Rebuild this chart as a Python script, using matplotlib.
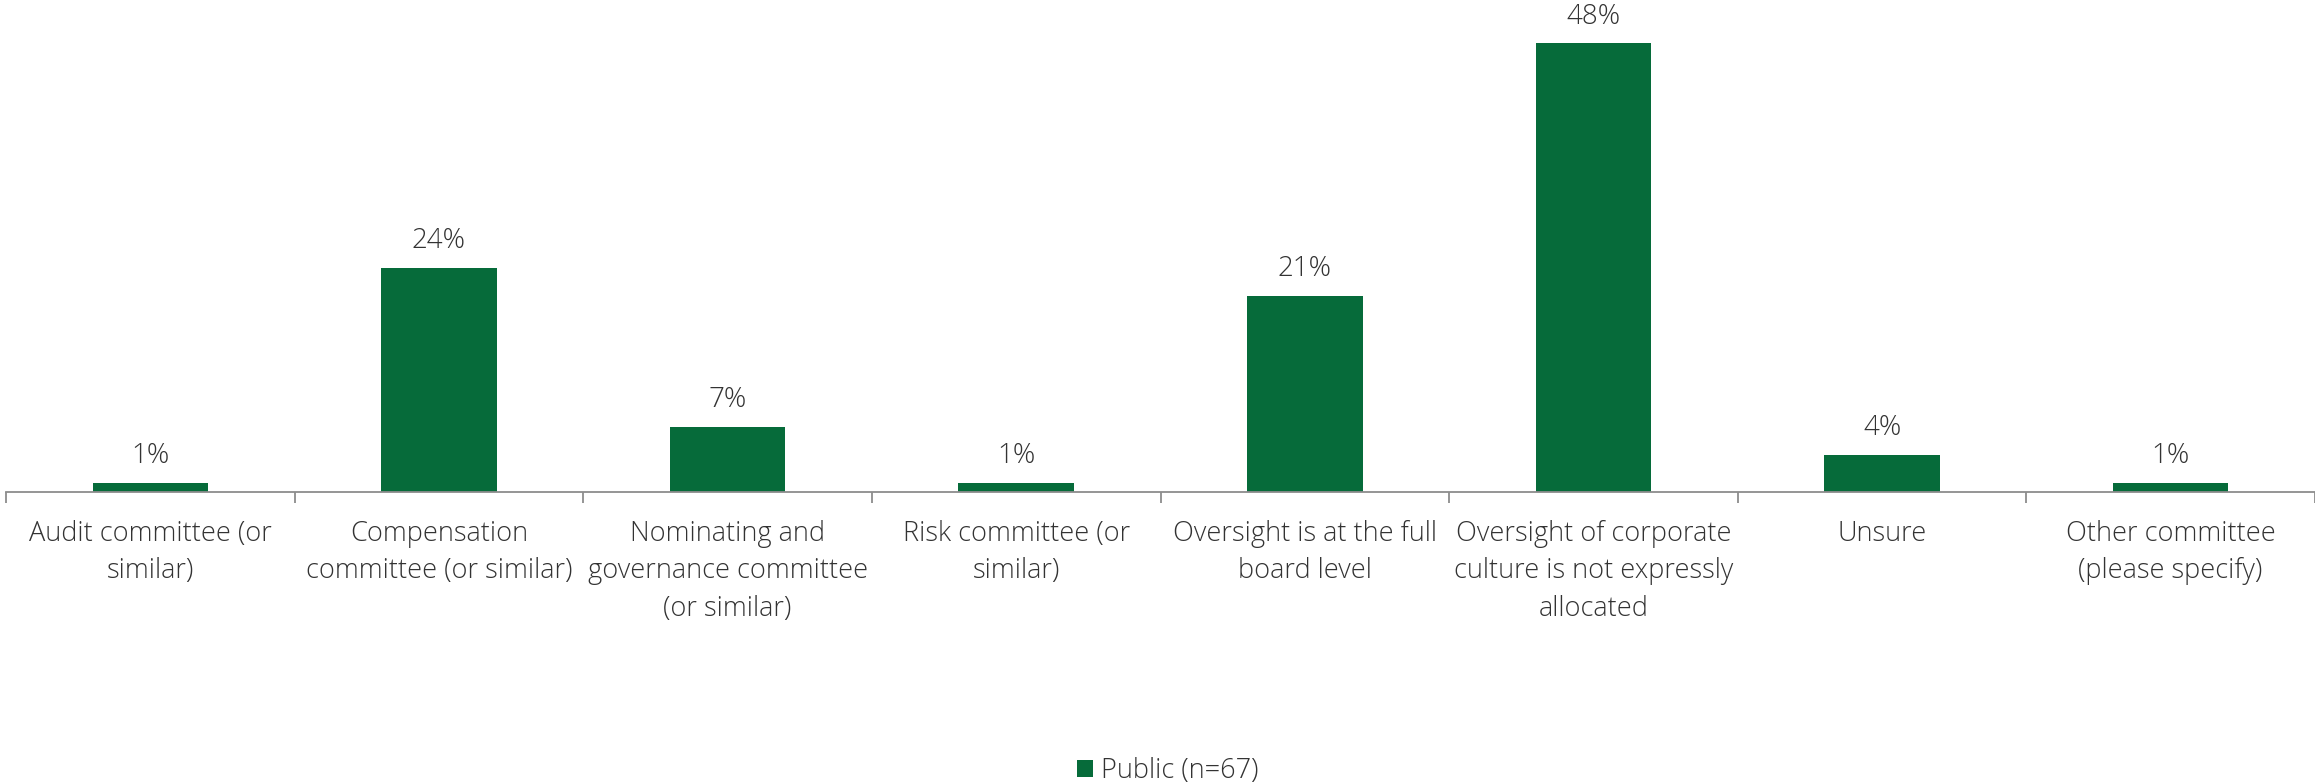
import matplotlib
matplotlib.use("Agg")
import matplotlib.pyplot as plt
from matplotlib.patches import Patch
import numpy as np

categories = [
    "Audit committee (or\nsimilar)",
    "Compensation\ncommittee (or similar)",
    "Nominating and\ngovernance committee\n(or similar)",
    "Risk committee (or\nsimilar)",
    "Oversight is at the full\nboard level",
    "Oversight of corporate\nculture is not expressly\nallocated",
    "Unsure",
    "Other committee\n(please specify)",
]
public_pct = [1, 24, 7, 1, 21, 48, 4, 1]
series_name = "Public (n=67)"

GREEN = "#066b3a"
TEXT = "#333333"
AXIS = "#8c8c8c"

plt.rcParams["font.family"] = ["Open Sans", "DejaVu Sans"]

fig = plt.figure(figsize=(23.15, 7.83), dpi=100)
ax = fig.add_axes([6 / 2315, (783 - 492) / 783, 1 - 6 / 2315, 492 / 783])

x = np.arange(len(categories))
bars = ax.bar(x, public_pct, width=0.4, color=GREEN)

for xi, v in zip(x, public_pct):
    ax.annotate(f"{v}%", (xi, v), xytext=(0, 9), textcoords="offset points",
                ha="center", va="bottom", fontsize=20, color=TEXT, fontweight="light")

ax.set_xlim(-0.5, len(categories) - 0.5)
ax.set_ylim(0, 52.6)
ax.set_yticks([])
for s in ["top", "right", "left"]:
    ax.spines[s].set_visible(False)
ax.spines["bottom"].set_color(AXIS)
ax.spines["bottom"].set_linewidth(1.3)

ax.set_xticks(x)
ax.set_xticklabels(categories, fontsize=19.5, color=TEXT, fontweight="light", linespacing=1.45)
ax.tick_params(axis="x", which="major", length=0, pad=20)
ax.set_xticks(np.arange(-0.5, len(categories) + 0.5, 1), minor=True)
ax.tick_params(axis="x", which="minor", length=8, width=1.3, color=AXIS)

handle = Patch(facecolor=GREEN, edgecolor="none")
leg = fig.legend([handle], [series_name], loc="center", bbox_to_anchor=(1168 / 2315, 1 - 771 / 783),
                 frameon=False, handlelength=0.6, handleheight=0.6, handletextpad=0.3,
                 prop={"size": 19.5, "weight": "light"})
for t in leg.get_texts():
    t.set_color(TEXT)

fig.savefig("out.png", dpi=100, facecolor="white")
